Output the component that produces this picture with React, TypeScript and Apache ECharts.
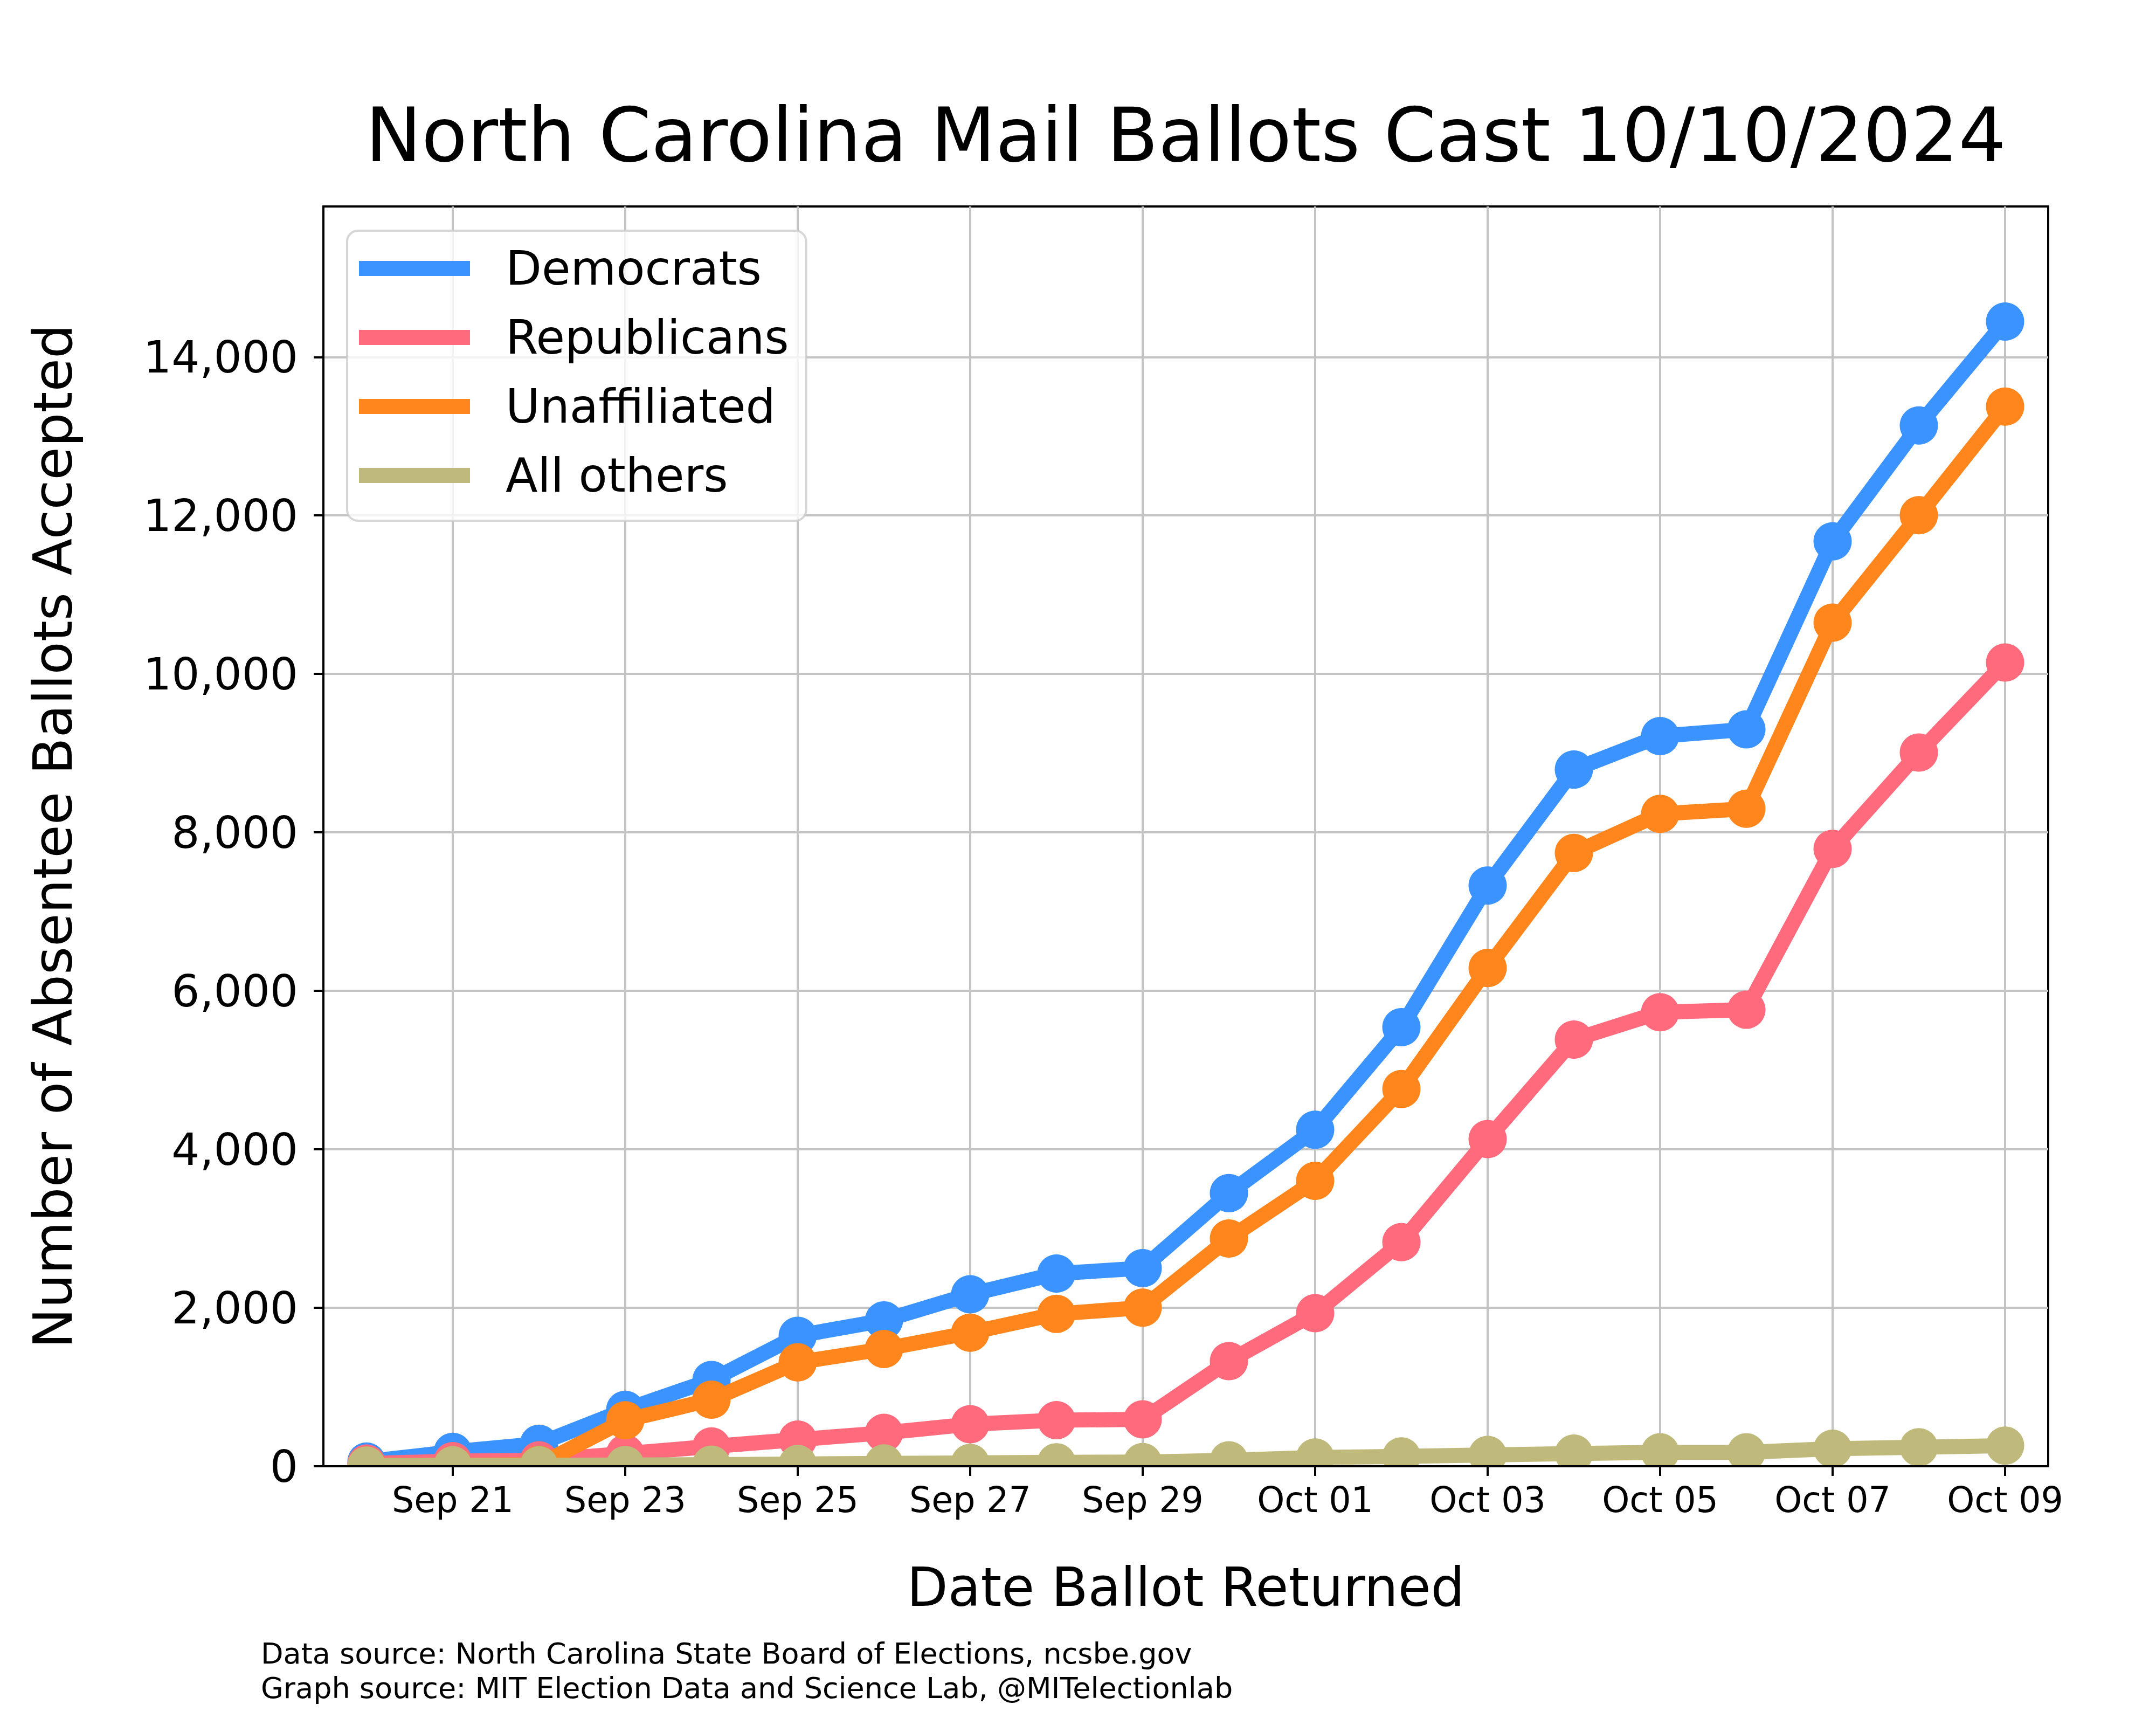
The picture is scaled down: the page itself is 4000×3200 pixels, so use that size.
import React, { useEffect, useRef } from 'react';
import * as echarts from 'echarts';

const FONT = 'DejaVu Sans';

const dates = [
  'Sep 20', 'Sep 21', 'Sep 22', 'Sep 23', 'Sep 24', 'Sep 25', 'Sep 26', 'Sep 27', 'Sep 28', 'Sep 29',
  'Sep 30', 'Oct 01', 'Oct 02', 'Oct 03', 'Oct 04', 'Oct 05', 'Oct 06', 'Oct 07', 'Oct 08', 'Oct 09',
];

const democrats = [60, 182, 284, 713, 1089, 1647, 1841, 2170, 2432, 2500, 3447, 4247, 5541, 7330, 8793, 9216, 9301, 11673, 13136, 14447];
const republicans = [34, 65, 75, 160, 250, 337, 421, 531, 581, 592, 1327, 1932, 2829, 4130, 5385, 5730, 5762, 7792, 9008, 10144];
const unaffiliated = [8, 12, 18, 580, 840, 1312, 1480, 1686, 1923, 2002, 2875, 3603, 4761, 6289, 7740, 8234, 8299, 10648, 12003, 13374];
const allOthers = [8, 12, 12, 15, 20, 28, 35, 42, 50, 52, 75, 110, 125, 143, 160, 176, 176, 221, 240, 261];

const seriesNames = ['Democrats', 'Republicans', 'Unaffiliated', 'All others'];
const seriesData = [democrats, republicans, unaffiliated, allOthers];
const colors = ['#3A93FE', '#FF6B7C', '#FF861D', '#BFBA7B'];

const yTicks = [0, 2000, 4000, 6000, 8000, 10000, 12000, 14000];
const yMax = 15900;

const titleText = 'North Carolina Mail Ballots Cast 10/10/2024';
const footerLines = [
  'Data source: North Carolina State Board of Elections, ncsbe.gov',
  'Graph source: MIT Election Data and Science Lab, @MITelectionlab',
];

export default function App() {
  const ref = useRef<HTMLDivElement>(null);
  useEffect(() => {
    const chart = echarts.init(ref.current as HTMLDivElement, null, { renderer: 'svg', width: 4000, height: 3200 });
    const onLabel = (i: number) => i % 2 === 1;
    const gridLine = { color: '#c4c4c4', width: 4 };
    const black = { color: '#000', width: 4 };
    chart.setOption({
      animation: false,
      backgroundColor: '#ffffff',
      textStyle: { fontFamily: FONT },
      grid: {
        left: 600, top: 383, width: 3200, height: 2337,
        show: true, borderColor: '#000', borderWidth: 4, backgroundColor: 'transparent',
        containLabel: false, outerBoundsMode: 'none',
      },
      legend: {
        orient: 'vertical', left: 644, top: 428,
        data: seriesNames,
        icon: 'rect', itemWidth: 206, itemHeight: 28, itemGap: 28,
        padding: [20, 32, 34, 22],
        backgroundColor: 'rgba(255,255,255,0.8)',
        borderColor: 'rgba(204,204,204,0.8)', borderWidth: 4, borderRadius: 20,
        textStyle: { fontSize: 87, color: '#000', fontFamily: FONT, lineHeight: 100, padding: [0, 0, 0, 61] },
        selectedMode: false, z: 30,
      },
      xAxis: [
        {
          type: 'category', data: dates, boundaryGap: true, position: 'bottom', z: 0,
          axisLine: { show: false }, axisTick: { show: false }, axisLabel: { show: false },
          splitLine: { show: true, interval: onLabel, alignWithLabel: true, lineStyle: gridLine },
        },
        {
          type: 'category', data: dates, boundaryGap: true, position: 'bottom', z: 20,
          name: 'Date Ballot Returned', nameLocation: 'middle', nameGap: 175,
          nameTextStyle: { fontSize: 99, color: '#000', fontFamily: FONT },
          axisLine: { show: true, lineStyle: black },
          axisTick: { show: true, alignWithLabel: true, interval: onLabel, length: 18, lineStyle: black },
          axisLabel: { interval: onLabel, fontSize: 65, color: '#000', margin: 30, fontFamily: FONT },
          splitLine: { show: false },
        },
      ],
      yAxis: {
        type: 'value', min: 0, max: yMax, interval: 2000,
        name: 'Number of Absentee Ballots Accepted', nameLocation: 'middle', nameGap: 452, nameRotate: 90,
        nameTextStyle: { fontSize: 100, color: '#000', fontFamily: FONT },
        axisLine: { show: true, lineStyle: black },
        axisTick: { show: true, customValues: yTicks, length: 18, lineStyle: black },
        axisLabel: {
          customValues: yTicks, fontSize: 82, color: '#000', margin: 47, fontFamily: FONT,
          formatter: (v: number) => (v % 2000 === 0 ? v.toLocaleString('en-US') : ''),
        },
        splitLine: { show: true, lineStyle: gridLine },
      },
      graphic: [
        {
          type: 'rect', z: 10, silent: true,
          shape: { x: 602, y: 2722, width: 3196, height: 60 },
          style: { fill: '#ffffff' },
        },
        {
          type: 'text', x: 2200, y: 251, z: 30,
          style: { text: titleText, fontSize: 139, fontFamily: FONT, fill: '#000', align: 'center', verticalAlign: 'middle' },
        },
        {
          type: 'text', x: 484, y: 3067, z: 30,
          style: { text: footerLines[0], fontSize: 54, fontFamily: FONT, fill: '#000', align: 'left', verticalAlign: 'middle' },
        },
        {
          type: 'text', x: 484, y: 3131, z: 30,
          style: { text: footerLines[1], fontSize: 54, fontFamily: FONT, fill: '#000', align: 'left', verticalAlign: 'middle' },
        },
      ],
      series: seriesNames.map((name, i) => ({
        name, type: 'line', data: seriesData[i], xAxisIndex: 0, yAxisIndex: 0,
        symbol: 'circle', symbolSize: 71, showSymbol: true, showAllSymbol: true,
        lineStyle: { width: 28, color: colors[i], join: 'round' },
        itemStyle: { color: colors[i] },
        z: 2 + i, clip: true, silent: true,
        emphasis: { disabled: true },
      })),
    });
    return () => chart.dispose();
  }, []);
  return (
    <div
      ref={ref}
      style={{ position: 'absolute', left: 0, top: 0, width: 4000, height: 3200, background: '#fff' }}
    />
  );
}
